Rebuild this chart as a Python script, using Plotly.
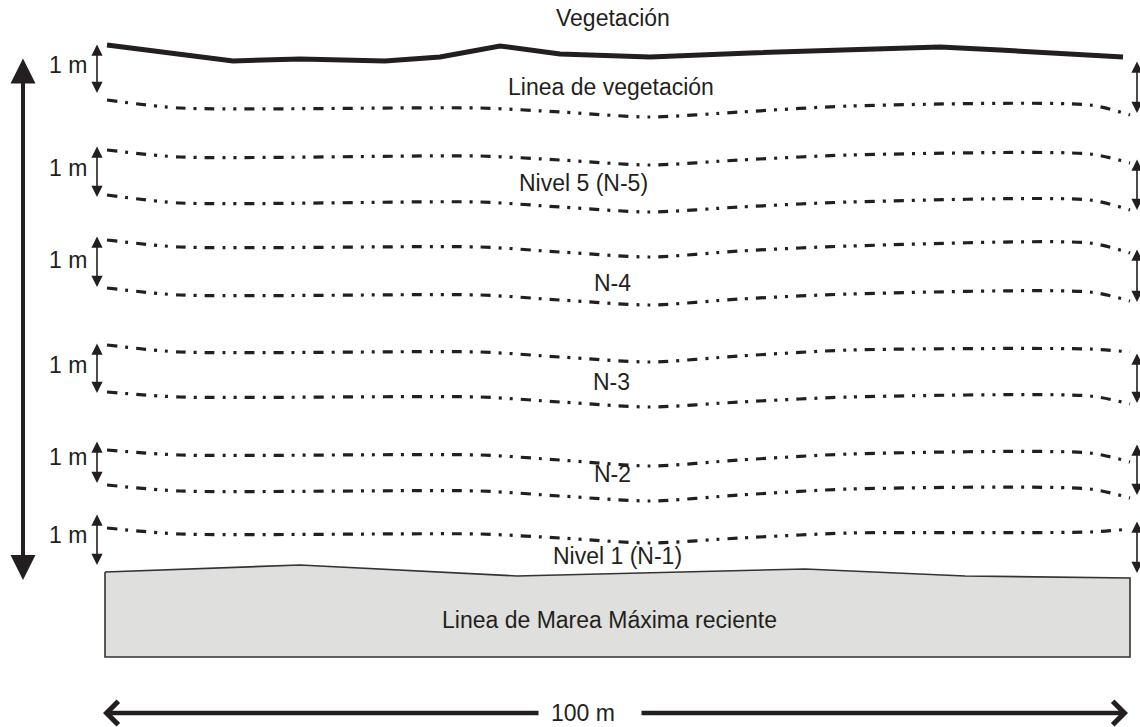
import plotly.graph_objects as go

# ---------------- data (diagram coordinates, px units of a 1140x727 canvas) -------------
veg_x = [107, 233, 300, 385, 440, 500, 560, 650, 750, 830, 940, 1000, 1123]
veg_y = [45, 61, 59, 61, 57, 46, 54, 57, 53, 50, 47, 50, 57]

level_x = [107, 180, 480, 560, 650, 740, 850, 1090, 1130]
line_veg = [100, 108, 108, 112, 117, 112, 106, 105, 115]
line_n5_top = [150, 157, 156, 160, 165, 160, 155, 154, 163]
line_n5_bot = [195, 203, 202, 207, 212, 207, 202, 200, 210]
line_n4_top = [240, 247, 247, 252, 257, 251, 246, 243, 253]
line_n4_bot = [288, 295, 295, 300, 305, 299, 294, 292, 301]
line_n3_top = [345, 352, 352, 357, 362, 356, 350, 349, 352]
line_n3_bot = [392, 397, 397, 402, 407, 402, 397, 396, 404]
line_n2_top = [450, 455, 455, 460, 466, 460, 454, 453, 462]
line_n2_bot = [485, 491, 491, 496, 501, 495, 489, 489, 498]
line_n1_top = [528, 534, 534, 538, 543, 538, 533, 532, 529]
level_lines = [line_veg, line_n5_top, line_n5_bot, line_n4_top, line_n4_bot,
               line_n3_top, line_n3_bot, line_n2_top, line_n2_bot, line_n1_top]

box_x = [105, 300, 517, 805, 965, 1130, 1130, 105, 105]
box_y = [572, 565, 576, 569, 576, 578, 657, 657, 572]

labels = ["Vegetación", "Linea de vegetación", "Nivel 5 (N-5)", "N-4", "N-3", "N-2",
          "Nivel 1 (N-1)", "Linea de Marea Máxima reciente", "100 m"]
labels_x = [613, 611, 583, 612, 611, 612, 617, 609, 583]
labels_y = [18, 87, 183, 283, 382, 474, 556, 620, 713]

meter_label = "1 m"
meter_x = 68
meter_y = [65, 168, 260, 365, 457, 535]

left_arrow_x = 97
left_arrow_top = [43, 145, 235, 342, 440, 513]
left_arrow_bot = [93, 197, 287, 393, 483, 565]

right_arrow_x = 1137
right_arrow_top = [60, 158, 248, 352, 443, 520]
right_arrow_bot = [113, 210, 302, 403, 495, 573]

big_arrow_x = 23
big_arrow_top = 57
big_arrow_bot = 580

scale_y = 713
scale_left = [103, 540]
scale_right = [640, 1128]

INK = "#231f20"
FONT = "Liberation Sans, Arial, sans-serif"

fig = go.Figure()

# vegetation thick line
fig.add_trace(go.Scatter(x=veg_x, y=veg_y, mode="lines",
                         line=dict(color=INK, width=5), hoverinfo="skip"))

# dash-dot-dot level lines
for ys in level_lines:
    fig.add_trace(go.Scatter(
        x=level_x, y=ys, mode="lines",
        line=dict(color=INK, width=3.2, shape="spline", smoothing=0.7,
                  dash="10px,8px,3px,8px,10px,8px,3px,8px,3px,8px"),
        hoverinfo="skip"))

# high tide box
fig.add_trace(go.Scatter(x=box_x, y=box_y, mode="lines", fill="toself",
                         fillcolor="#dfdfdd", line=dict(color="#333333", width=1.6),
                         hoverinfo="skip"))

anns = []
for t, x, y in zip(labels, labels_x, labels_y):
    anns.append(dict(x=x, y=y, xref="x", yref="y", text=t, showarrow=False,
                     font=dict(family=FONT, size=23, color=INK),
                     xanchor="center", yanchor="middle"))
for y in meter_y:
    anns.append(dict(x=meter_x, y=y, xref="x", yref="y", text=meter_label, showarrow=False,
                     font=dict(family=FONT, size=23, color=INK),
                     xanchor="center", yanchor="middle"))


def double_arrow(x0, y0, x1, y1, width, size, head=2):
    return dict(x=x1, y=y1, ax=x0, ay=y0, xref="x", yref="y", axref="x", ayref="y",
                text="", showarrow=True, arrowside="end+start",
                arrowhead=head, startarrowhead=head,
                arrowsize=size, startarrowsize=size,
                arrowwidth=width, arrowcolor=INK, standoff=0, startstandoff=0)


for t, b in zip(left_arrow_top, left_arrow_bot):
    anns.append(double_arrow(left_arrow_x, t, left_arrow_x, b, 1.6, 1.4))
for t, b in zip(right_arrow_top, right_arrow_bot):
    anns.append(double_arrow(right_arrow_x, t, right_arrow_x, b, 1.6, 1.4))
anns.append(double_arrow(big_arrow_x, big_arrow_top, big_arrow_x, big_arrow_bot, 4, 1.25))

# 100 m scale arrows (open chevrons)
anns.append(dict(x=scale_left[0], y=scale_y, ax=scale_left[1], ay=scale_y,
                 xref="x", yref="y", axref="x", ayref="y", text="", showarrow=True,
                 arrowhead=4, arrowsize=1.0, arrowwidth=4.5, arrowcolor=INK, standoff=0))
anns.append(dict(x=scale_right[1], y=scale_y, ax=scale_right[0], ay=scale_y,
                 xref="x", yref="y", axref="x", ayref="y", text="", showarrow=True,
                 arrowhead=4, arrowsize=1.0, arrowwidth=4.5, arrowcolor=INK, standoff=0))

fig.update_layout(
    width=1140, height=727,
    margin=dict(l=0, r=0, t=0, b=0),
    paper_bgcolor="white", plot_bgcolor="white",
    showlegend=False,
    xaxis=dict(range=[0, 1140], visible=False, fixedrange=True),
    yaxis=dict(range=[727, 0], visible=False, fixedrange=True),
    annotations=anns,
)

fig.write_html("out.html", config={"displayModeBar": False},
               post_script="document.body.style.margin='0';document.body.style.overflow='hidden';")
